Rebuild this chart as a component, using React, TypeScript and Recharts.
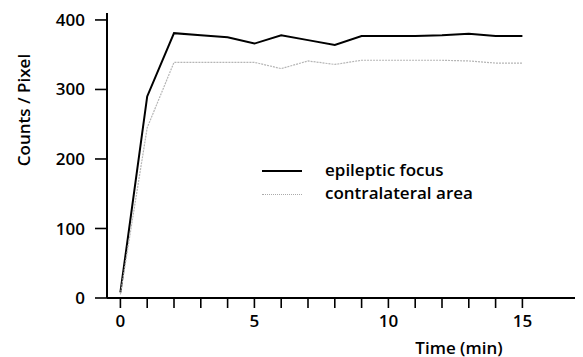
import { LineChart, Line, XAxis, YAxis } from 'recharts';

const minutes = [0, 1, 2, 3, 4, 5, 6, 7, 8, 9, 10, 11, 12, 13, 14, 15];
const epilepticFocus = [8, 290, 381, 378, 375, 366, 378, 371, 364, 377, 377, 377, 378, 380, 377, 377];
const contralateralArea = [5, 245, 339, 339, 339, 339, 330, 341, 336, 342, 342, 342, 342, 341, 338, 338];
const yTicks = [0, 100, 200, 300, 400];
const seriesNames = ['epileptic focus', 'contralateral area'];

const data = minutes.map((t, i) => ({
  t,
  focus: epilepticFocus[i],
  contra: contralateralArea[i],
}));

const font = '"Open Sans", sans-serif';
const weight = 600;

// legend drawn as an overlay on top of the svg
function ChartLegend() {
  return (
    <div style={{ position: 'absolute', left: 0, top: 0, fontFamily: font, fontSize: 17, fontWeight: weight, color: '#000' }}>
      <div style={{ position: 'absolute', left: 254, top: 162, width: 40, height: 0, borderTop: '2px solid #000' }} />
      <div style={{ position: 'absolute', left: 317, top: 152, lineHeight: '20px', whiteSpace: 'nowrap' }}>{seriesNames[0]}</div>
      <div style={{ position: 'absolute', left: 254, top: 186, width: 40, height: 0, borderTop: '1px dotted #aaa' }} />
      <div style={{ position: 'absolute', left: 317, top: 175, lineHeight: '20px', whiteSpace: 'nowrap' }}>{seriesNames[1]}</div>
    </div>
  );
}

export default function App() {
  return (
    <div style={{ position: 'relative', width: 575, height: 349 }}>
      <LineChart width={575} height={349} data={data} margin={{ top: 5, right: 7, left: 0, bottom: 0 }}>
        <XAxis
          dataKey="t"
          type="number"
          domain={[-0.5, 17]}
          ticks={minutes}
          tickFormatter={(v: number) => (v % 5 === 0 ? String(v) : '')}
          height={59}
          tickSize={10}
          tickMargin={7}
          axisLine={{ stroke: '#000', strokeWidth: 2 }}
          tickLine={{ stroke: '#000', strokeWidth: 1.6 }}
          tick={{ fill: '#000', fontSize: 17, fontWeight: weight, fontFamily: font }}
          label={{
            content: () => (
              <text x={451} y={339} textAnchor="middle" dominantBaseline="central" fontSize={17} fontWeight={weight} fontFamily={font} fill="#000">
                Time (min)
              </text>
            ),
          }}
        />
        <YAxis
          type="number"
          domain={[0, 410]}
          ticks={yTicks}
          width={99}
          tickSize={12}
          tickMargin={10}
          axisLine={{ stroke: '#000', strokeWidth: 2 }}
          tickLine={{ stroke: '#000', strokeWidth: 1.6 }}
          tick={{ fill: '#000', fontSize: 17, fontWeight: weight, fontFamily: font }}
          label={{
            content: () => (
              <text
                x={15}
                y={102}
                transform="rotate(-90 15 102)"
                textAnchor="middle"
                dominantBaseline="central"
                fontSize={17}
                fontWeight={weight}
                fontFamily={font}
                fill="#000"
              >
                Counts / Pixel
              </text>
            ),
          }}
        />
        <Line type="linear" dataKey="focus" name={seriesNames[0]} stroke="#000" strokeWidth={2} dot={false} isAnimationActive={false} />
        <Line
          type="linear"
          dataKey="contra"
          name={seriesNames[1]}
          stroke="#b5b5b5"
          strokeWidth={1.2}
          strokeDasharray="2 1"
          dot={false}
          isAnimationActive={false}
        />
      </LineChart>
      <ChartLegend />
    </div>
  );
}
